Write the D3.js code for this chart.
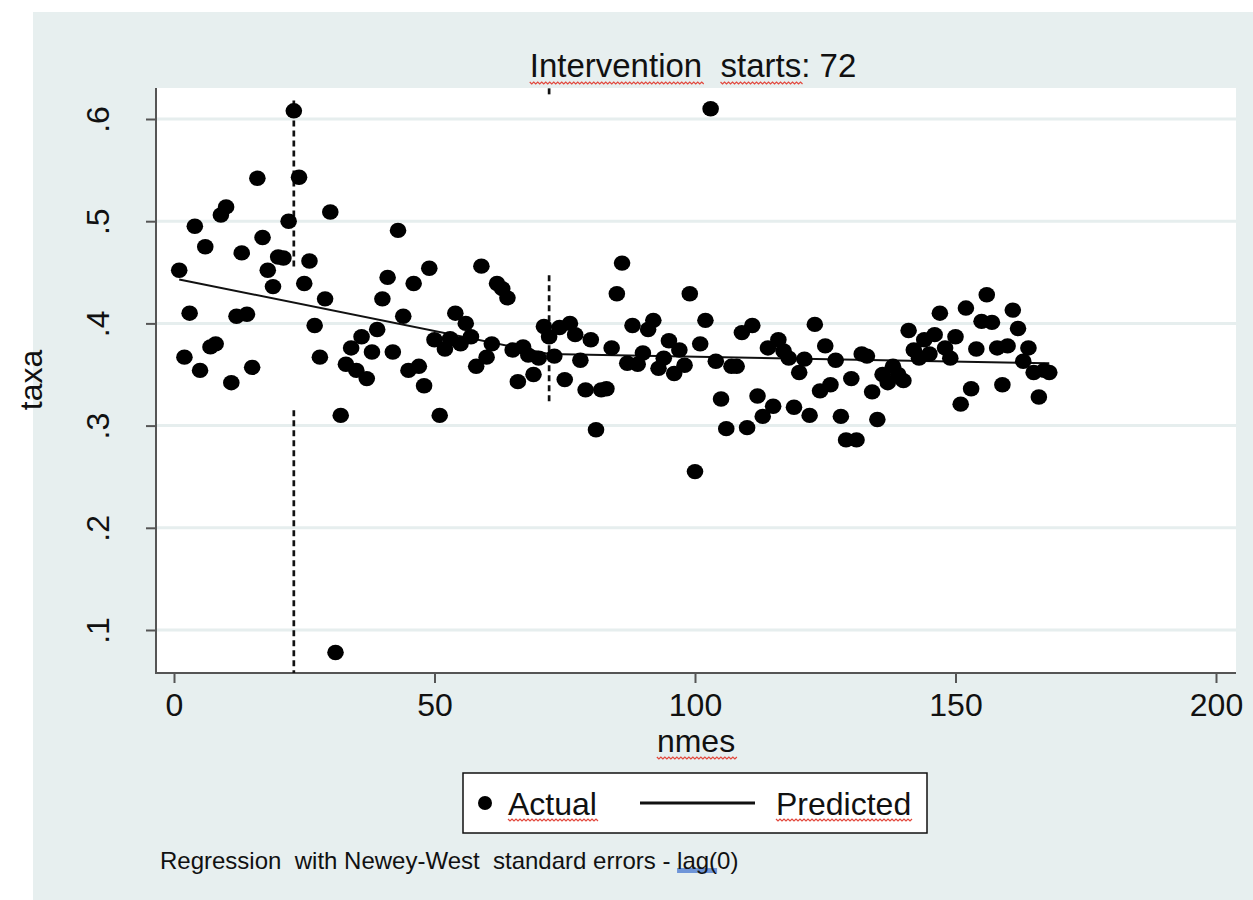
<!DOCTYPE html>
<html>
<head>
<meta charset="utf-8">
<script src="https://cdn.jsdelivr.net/npm/d3@7"></script>
<style>
  body { margin: 0; background: #fff; }
  text { font-family: "Liberation Sans", Arial, sans-serif; fill: #111; }
</style>
</head>
<body>
<div id="chart"></div>
<script>
// taxa by month (nmes = 1..168)
const taxa = [
  .452, .367, .410, .495, .354, .475, .377, .380, .506, .514, .342, .407,
  .469, .409, .357, .542, .484, .452, .436, .465, .464, .500, .608, .543,
  .439, .461, .398, .367, .424, .509, .078, .310, .360, .376, .354, .387,
  .346, .372, .394, .424, .445, .372, .491, .407, .354, .439, .358, .339,
  .454, .384, .310, .375, .385, .410, .380, .400, .387, .358, .456, .367,
  .380, .439, .434, .425, .374, .343, .377, .369, .350, .366, .397, .387,
  .368, .396, .345, .400, .389, .364, .335, .384, .296, .335, .336, .376,
  .429, .459, .361, .398, .360, .371, .394, .403, .356, .366, .383, .351,
  .374, .359, .429, .255, .380, .403, .610, .363, .326, .297, .358, .358,
  .391, .298, .398, .329, .309, .376, .319, .384, .373, .366, .318, .352,
  .365, .310, .399, .334, .378, .340, .364, .309, .286, .346, .286, .370,
  .368, .333, .306, .350, .342, .358, .350, .344, .393, .374, .366, .384,
  .370, .389, .410, .376, .366, .387, .321, .415, .336, .375, .402, .428,
  .401, .376, .340, .378, .413, .395, .363, .376, .352, .328, .354, .352
];
const nmes = taxa.map((d, i) => i + 1);

// segmented regression (break at 72)
const predNmes = [1, 72, 168];
const predTaxa = [.443, .370, .361];

// dashed vertical markers: [nmes, from, to]
const markerNmes = [23, 23, 72, 72];
const markerFrom = [.618, .315, .630, .447];
const markerTo   = [.452, .058, .624, .322];

const xTicks = [0, 50, 100, 150, 200];
const yTicks = [.1, .2, .3, .4, .5, .6];
const yTickLabels = [".1", ".2", ".3", ".4", ".5", ".6"];

const W = 1253, H = 900;
const plot = { left: 156, right: 1236, top: 88, bottom: 673 };

const svg = d3.select("#chart").append("svg")
  .attr("width", W).attr("height", H);

// outer graph region + plot region
svg.append("rect").attr("x", 33).attr("y", 12)
  .attr("width", W - 33).attr("height", H - 12).attr("fill", "#e7efef");
svg.append("rect").attr("x", plot.left).attr("y", plot.top)
  .attr("width", plot.right - plot.left).attr("height", plot.bottom - plot.top)
  .attr("fill", "#fff");

const x = d3.scaleLinear().domain([0, 200]).range([174, 1216]);
const y = d3.scaleLinear().domain([0.1, 0.6]).range([630, 119]);

// grid
svg.append("g").selectAll("line").data(yTicks).enter().append("line")
  .attr("x1", plot.left).attr("x2", plot.right)
  .attr("y1", d => y(d)).attr("y2", d => y(d))
  .attr("stroke", "#e6eeee").attr("stroke-width", 3);

// axes
const yAxis = svg.append("g").attr("transform", `translate(${plot.left},0)`)
  .call(d3.axisLeft(y).tickValues(yTicks).tickSize(10)
    .tickFormat((d, i) => yTickLabels[i]));
yAxis.select(".domain").remove();
yAxis.selectAll("line").attr("stroke", "#555").attr("stroke-width", 2);
yAxis.selectAll("text")
  .attr("transform", "rotate(-90)")
  .attr("x", 0).attr("y", -47).attr("dy", null)
  .attr("text-anchor", "middle")
  .style("font-size", "32px").style("font-family", "Liberation Sans, Arial, sans-serif")
  .attr("fill", "#111");

const xAxis = svg.append("g").attr("transform", `translate(0,${plot.bottom})`)
  .call(d3.axisBottom(x).tickValues(xTicks).tickSize(10));
xAxis.select(".domain").remove();
xAxis.selectAll("line").attr("stroke", "#555").attr("stroke-width", 2);
xAxis.selectAll("text")
  .attr("y", 20).attr("dy", "0.71em")
  .style("font-size", "32px").style("font-family", "Liberation Sans, Arial, sans-serif")
  .attr("fill", "#111");

svg.append("line").attr("x1", plot.left).attr("x2", plot.left)
  .attr("y1", plot.top).attr("y2", plot.bottom + 1)
  .attr("stroke", "#555").attr("stroke-width", 2);
svg.append("line").attr("x1", plot.left - 1).attr("x2", plot.right)
  .attr("y1", plot.bottom).attr("y2", plot.bottom)
  .attr("stroke", "#555").attr("stroke-width", 2);

// dashed markers
svg.append("g").selectAll("line").data(markerNmes).enter().append("line")
  .attr("x1", d => x(d)).attr("x2", d => x(d))
  .attr("y1", (d, i) => y(markerFrom[i])).attr("y2", (d, i) => y(markerTo[i]))
  .attr("stroke", "#111").attr("stroke-width", 2.7)
  .attr("stroke-dasharray", "6,4");

// predicted line
const pred = predNmes.map((d, i) => [d, predTaxa[i]]);
svg.append("path")
  .attr("d", d3.line().x(d => x(d[0])).y(d => y(d[1]))(pred))
  .attr("fill", "none").attr("stroke", "#111").attr("stroke-width", 2);

// actual points
svg.append("g").selectAll("ellipse").data(taxa).enter().append("ellipse")
  .attr("cx", (d, i) => x(nmes[i])).attr("cy", d => y(d))
  .attr("rx", 8.3).attr("ry", 7.7).attr("fill", "#000");

// titles
const title = svg.append("text").attr("x", 693).attr("y", 77)
  .attr("text-anchor", "middle").attr("xml:space", "preserve")
  .style("font-size", "33px").text("Intervention  starts: 72");
svg.append("text").attr("x", 696).attr("y", 752)
  .attr("text-anchor", "middle").style("font-size", "32px").text("nmes")
  .attr("id", "xlab");
svg.append("text").attr("transform", "translate(42,380) rotate(-90)")
  .attr("text-anchor", "middle").style("font-size", "32px").text("taxa");

// legend
const lg = svg.append("g");
lg.append("rect").attr("x", 463).attr("y", 773).attr("width", 464).attr("height", 60)
  .attr("fill", "#fff").attr("stroke", "#111").attr("stroke-width", 1.5);
lg.append("circle").attr("cx", 485).attr("cy", 803).attr("r", 7).attr("fill", "#000");
const tA = lg.append("text").attr("x", 508).attr("y", 815).style("font-size", "32px").text("Actual");
lg.append("line").attr("x1", 640).attr("x2", 755).attr("y1", 803).attr("y2", 803)
  .attr("stroke", "#111").attr("stroke-width", 3);
const tP = lg.append("text").attr("x", 776).attr("y", 815).style("font-size", "32px").text("Predicted");

// note
const note = svg.append("text").attr("x", 160).attr("y", 869)
  .attr("xml:space", "preserve").style("font-size", "24px")
  .text("Regression  with Newey-West  standard errors - lag(0)");

// spell-check marks seen in the picture
function squiggle(x1, x2, yy) {
  let p = `M${x1},${yy}`;
  for (let xx = x1, k = 0; xx < x2; xx += 2, k++) p += `L${xx + 2},${yy + (k % 2 ? 0 : 2)}`;
  svg.append("path").attr("d", p).attr("fill", "none")
    .attr("stroke", "#e2483d").attr("stroke-width", 1.2);
}
function span(textSel, a, b) {
  const n = textSel.node();
  return [n.getStartPositionOfChar(a).x, n.getEndPositionOfChar(b).x];
}
let s = span(title, 0, 11); squiggle(s[0], s[1], 82);
s = span(title, 14, 19); squiggle(s[0], s[1], 82);
let b = d3.select("#xlab").node().getBBox(); squiggle(b.x, b.x + b.width, 757);
b = tA.node().getBBox(); squiggle(b.x, b.x + b.width, 819);
b = tP.node().getBBox(); squiggle(b.x, b.x + b.width, 819);
const txt = note.text();
const li = txt.indexOf("lag");
s = span(note, li, li + 3);
svg.insert("rect", () => note.node()).attr("x", s[0]).attr("y", 868)
  .attr("width", s[1] - s[0]).attr("height", 5).attr("fill", "#6f95d8");
</script>
</body>
</html>
